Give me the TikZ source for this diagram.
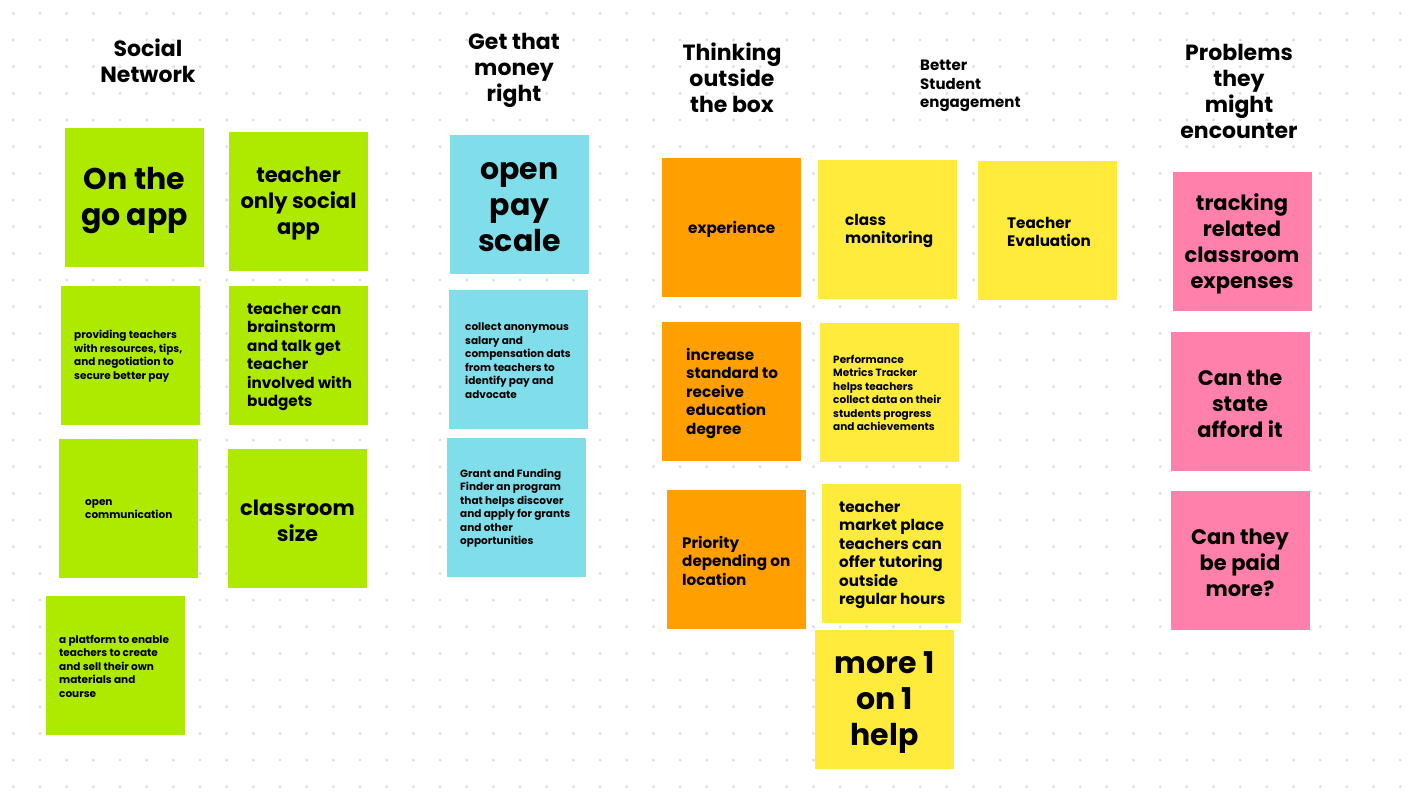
\documentclass[tikz,border=0pt]{standalone}
\usepackage{fontspec}
\setmainfont{Poppins}
\definecolor{sgreen}{HTML}{AEEA00}
\definecolor{sblue}{HTML}{80DEEA}
\definecolor{sorange}{HTML}{FFA000}
\definecolor{syellow}{HTML}{FFEB3B}
\definecolor{spink}{HTML}{FF80AB}
\definecolor{griddot}{HTML}{DDDDDD}
\begin{document}
\begin{tikzpicture}[x=1pt,y=-1pt,
  sticky/.style={draw=none,inner sep=0pt,minimum width=139pt,minimum height=139pt},
  huge/.style={font=\fontsize{30}{36}\selectfont\bfseries,align=center,yshift=-3pt},
  big/.style={font=\fontsize{21}{26}\selectfont\bfseries,align=center,yshift=-2.5pt},
  med/.style={font=\fontsize{15.2}{18.5}\selectfont\bfseries,align=left,anchor=west,inner sep=0pt,yshift=-2pt},
  small/.style={font=\fontsize{10.5}{13.5}\selectfont\bfseries,align=left,anchor=west,inner sep=0pt,yshift=-1pt},
  head/.style={font=\fontsize{22}{26}\selectfont\bfseries,align=center},
]
\useasboundingbox (0,0) rectangle (1422,800);
\fill[white] (0,0) rectangle (1422,800);
% dot grid
\foreach \i in {0,...,53}{
  \foreach \j in {0,...,29}{
    \fill[griddot] ({13.33+26.67*\i},{13.33+26.67*\j}) circle (1.6);
  }
}
% headers
\node[head] (h1) at (148,61) {Social\\Network};
\node[head] (h2) at (514,70.5) {Get that\\money\\right};
\node[head] (h3) at (732,78) {Thinking\\outside\\the box};
\node[font=\fontsize{15}{18.5}\selectfont\bfseries,align=left,anchor=west,inner sep=0pt] (h4) at (920,86) {Better\\Student\\engagement};
\node[head] (h5) at (1239,91) {Problems\\they\\might\\encounter};

% green column
\node[sticky,fill=sgreen] (b1) at (134.5,197.5) {};
\node[huge] (t1) at (b1) {On the\\go app};
\node[sticky,fill=sgreen] (b2) at (298.5,201.5) {};
\node[big] (t2) at (b2) {teacher\\only social\\app};
\node[sticky,fill=sgreen] (b3) at (130.5,355.5) {};
\node[small] (t3) at (74,355) {providing teachers\\with resources, tips,\\and negotiation to\\secure better pay};
\node[sticky,fill=sgreen] (b4) at (298.5,355.5) {};
\node[med] (t4) at (247,355) {teacher can\\brainstorm\\and talk get\\teacher\\involved with\\budgets};
\node[sticky,fill=sgreen] (b5) at (128.5,508.5) {};
\node[small] (t5) at (85,508) {open\\communication};
\node[sticky,fill=sgreen] (b6) at (297.5,518.5) {};
\node[big] (t6) at (b6) {classroom\\size};
\node[sticky,fill=sgreen] (b7) at (115.5,665.5) {};
\node[small] (t7) at (59,665) {a platform to enable\\teachers to create\\and sell their own\\materials and\\course};

% blue column
\node[sticky,fill=sblue] (b8) at (519.5,204.5) {};
\node[huge] (t8) at (b8) {open\\pay\\scale};
\node[sticky,fill=sblue] (b9) at (518.5,359.5) {};
\node[small] (t9) at (465,359.5) {collect anonymous\\salary and\\compensation dats\\from teachers to\\identify pay and\\advocate};
\node[sticky,fill=sblue] (b10) at (516.5,507.5) {};
\node[small] (t10) at (460,507) {Grant and Funding\\Finder an program\\that helps discover\\and apply for grants\\and other\\opportunities};

% orange column
\node[sticky,fill=sorange] (b11) at (731.5,227.5) {};
\node[med] (t11) at (688,227) {experience};
\node[sticky,fill=sorange] (b12) at (731.5,391.5) {};
\node[med] (t12) at (686,391) {increase\\standard to\\receive\\education\\degree};
\node[sticky,fill=sorange] (b13) at (736,559) {};
\node[med] (t13) at (682,558.5) {Priority\\depending on\\location};

% yellow column
\node[sticky,fill=syellow] (b14) at (887.5,229.5) {};
\node[med] (t14) at (845,229) {class\\monitoring};
\node[sticky,fill=syellow] (b15) at (1047.5,230.5) {};
\node[med] (t15) at (1007,230) {Teacher\\Evaluation};
\node[sticky,fill=syellow] (b16) at (889.5,392.5) {};
\node[small] (t16) at (833,392) {Performance\\Metrics Tracker\\helps teachers\\collect data on their\\students progress\\and achievements};
\node[sticky,fill=syellow] (b17) at (891.5,553.5) {};
\node[med] (t17) at (839,553) {teacher\\market place\\teachers can\\offer tutoring\\outside\\regular hours};
\node[sticky,fill=syellow] (b18) at (884.5,699.5) {};
\node[huge] (t18) at (b18) {more 1\\on 1\\help};

% pink column
\node[sticky,fill=spink] (b19) at (1242,241) {};
\node[big] (t19) at (b19) {tracking\\related\\classroom\\expenses};
\node[sticky,fill=spink] (b20) at (1240,401) {};
\node[big] (t20) at (b20) {Can the\\state\\afford it};
\node[sticky,fill=spink] (b21) at (1240,560) {};
\node[big] (t21) at (b21) {Can they\\be paid\\more?};
\end{tikzpicture}
\end{document}
